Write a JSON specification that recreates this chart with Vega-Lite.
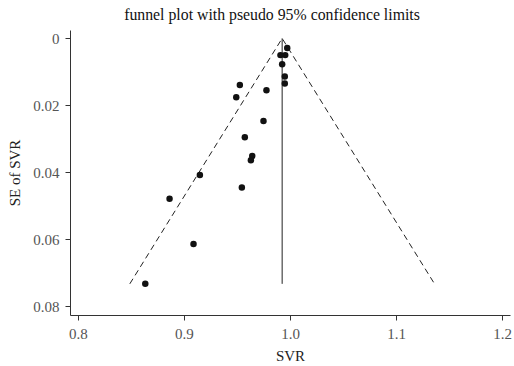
{
  "$schema": "https://vega.github.io/schema/vega-lite/v6.json",
  "autosize": "none",
  "width": 440,
  "height": 285,
  "padding": {"left": 70, "top": 30, "right": 4, "bottom": 51},
  "background": "white",
  "config": {
    "view": {"stroke": null},
    "font": "Liberation Serif",
    "axis": {"grid": false, "domainColor": "#333", "tickColor": "#333", "labelColor": "#555", "titleColor": "#222", "labelFont": "Liberation Serif", "titleFont": "Liberation Serif", "labelFontSize": 15, "titleFontSize": 15, "titleFontWeight": "normal", "tickSize": 5}
  },
  "title": {"text": "funnel plot with pseudo 95% confidence limits", "font": "Liberation Serif", "fontSize": 15.8, "fontWeight": "normal", "color": "#111", "anchor": "middle", "dx": -18, "baseline": "alphabetic", "offset": -6},
  "datasets": {
    "pts": [
      {"svr": 0.9974, "se": 0.0029},
      {"svr": 0.9910, "se": 0.0050},
      {"svr": 0.9955, "se": 0.0050},
      {"svr": 0.9926, "se": 0.0077},
      {"svr": 0.9951, "se": 0.0114},
      {"svr": 0.9951, "se": 0.0135},
      {"svr": 0.9527, "se": 0.0139},
      {"svr": 0.9778, "se": 0.0155},
      {"svr": 0.9493, "se": 0.0176},
      {"svr": 0.9750, "se": 0.0247},
      {"svr": 0.9574, "se": 0.0295},
      {"svr": 0.9644, "se": 0.0351},
      {"svr": 0.9631, "se": 0.0364},
      {"svr": 0.9150, "se": 0.0408},
      {"svr": 0.9546, "se": 0.0445},
      {"svr": 0.8864, "se": 0.0479},
      {"svr": 0.9090, "se": 0.0614},
      {"svr": 0.8635, "se": 0.0733}
    ],
    "funnel": [
      {"svr": 0.8489, "se": 0.0733, "o": 1},
      {"svr": 0.9926, "se": 0.0, "o": 2},
      {"svr": 1.1363, "se": 0.0733, "o": 3}
    ],
    "mid": [
      {"svr": 0.9926, "se": 0.0, "o": 1},
      {"svr": 0.9926, "se": 0.0733, "o": 2}
    ]
  },
  "layer": [
    {
      "data": {"name": "funnel"},
      "mark": {"type": "line", "color": "#222", "strokeWidth": 1, "strokeDash": [6, 4]},
      "encoding": {
        "x": {"field": "svr", "type": "quantitative"},
        "y": {"field": "se", "type": "quantitative"},
        "order": {"field": "o"}
      }
    },
    {
      "data": {"name": "mid"},
      "mark": {"type": "line", "color": "#222", "strokeWidth": 1},
      "encoding": {
        "x": {"field": "svr", "type": "quantitative"},
        "y": {"field": "se", "type": "quantitative"},
        "order": {"field": "o"}
      }
    },
    {
      "data": {"name": "pts"},
      "mark": {"type": "point", "filled": true, "color": "#111", "opacity": 1, "size": 42},
      "encoding": {
        "x": {"field": "svr", "type": "quantitative", "title": "SVR",
          "scale": {"domain": [0.7925, 1.2075], "nice": false, "zero": false},
          "axis": {"values": [0.8, 0.9, 1.0, 1.1, 1.2], "format": ".1f", "labelPadding": 6, "titlePadding": 7}},
        "y": {"field": "se", "type": "quantitative", "title": "SE of SVR",
          "scale": {"domain": [-0.0025, 0.0826], "nice": false, "zero": false, "reverse": true},
          "axis": {"values": [0, 0.02, 0.04, 0.06, 0.08], "labelExpr": "datum.value == 0 ? '0' : format(datum.value, '.2f')", "labelPadding": 6, "titlePadding": 10}}
      }
    }
  ]
}
